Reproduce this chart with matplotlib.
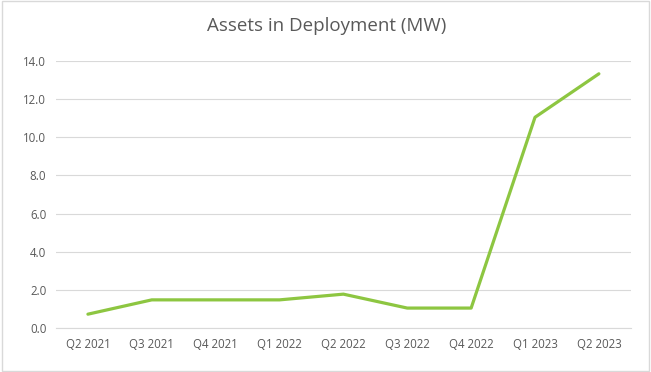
import matplotlib.pyplot as plt
from matplotlib.patches import Rectangle

# Quarterly capacity in deployment (MW).
quarters = ["Q2 2021", "Q3 2021", "Q4 2021", "Q1 2022", "Q2 2022",
            "Q3 2022", "Q4 2022", "Q1 2023", "Q2 2023"]
deployed_mw = [0.73, 1.48, 1.48, 1.48, 1.78, 1.05, 1.05, 11.05, 13.33]
y_ticks = [0, 2, 4, 6, 8, 10, 12, 14]

text_color = "#595959"
grid_color = "#D9D9D9"
line_color = "#8DC641"


def main():
  plt.rcParams['font.family'] = ['Open Sans', 'DejaVu Sans']

  fig = plt.figure(figsize=(6.51, 3.72), dpi=100)
  ax = fig.add_axes([0.086, 0.118, 0.883, 0.718])

  x = range(len(quarters))
  ax.plot(x, deployed_mw, color=line_color, linewidth=2.3, solid_capstyle="round")

  ax.set_xlim(-0.5, len(quarters) - 0.5)
  ax.set_ylim(0, 14)
  ax.set_xticks(list(x))
  ax.set_xticklabels(quarters)
  ax.set_yticks(y_ticks)
  ax.set_yticklabels([f"{v:.1f}" for v in y_ticks])
  ax.tick_params(axis="both", length=0, labelsize=8.3, colors=text_color)
  ax.tick_params(axis="x", pad=7)
  ax.tick_params(axis="y", pad=7)

  ax.grid(axis="y", color=grid_color, linewidth=0.8)
  ax.set_axisbelow(True)
  for side in ["top", "right", "left"]:
    ax.spines[side].set_visible(False)
  ax.spines["bottom"].set_color(grid_color)
  ax.spines["bottom"].set_linewidth(0.8)

  fig.text(0.502, 0.93, "Assets in Deployment (MW)", ha="center", va="center",
           fontsize=13.5, color=text_color)

  # Light frame around the whole chart.
  fig.patches.append(Rectangle((0.003, 0.004), 0.994, 0.992, transform=fig.transFigure,
                               fill=False, edgecolor=grid_color, linewidth=1))

  fig.savefig("out.png", dpi=100)


if __name__ == "__main__":
  main()
